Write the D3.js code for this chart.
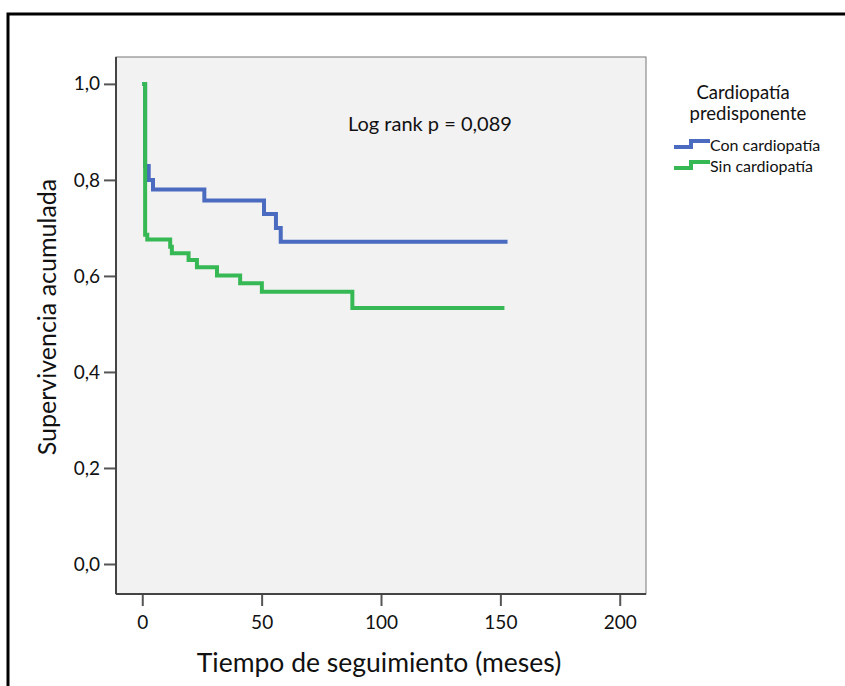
<!DOCTYPE html>
<html>
<head>
<meta charset="utf-8">
<script src="https://cdnjs.cloudflare.com/ajax/libs/d3/7.8.5/d3.min.js"></script>
<style>
  body { margin: 0; background: #fff; }
  text { font-family: Lato, "Open Sans", sans-serif; fill: #111; }
</style>
</head>
<body>
<div id="chart"></div>
<script>
var width = 845, height = 686;

// survival curves
var conTime = [0, 1.2, 2.7, 4.5, 26, 51, 56, 58, 153];
var conSurv = [1, 0.829, 0.80, 0.78, 0.757, 0.729, 0.70, 0.671, 0.671];

var sinTime = [0, 1.2, 2.1, 11.7, 12.4, 19.4, 22.9, 31.3, 41, 50.1, 88, 151.7];
var sinSurv = [1, 0.686, 0.676, 0.661, 0.647, 0.633, 0.618, 0.601, 0.585, 0.567, 0.533, 0.533];

var xTicks = [0, 50, 100, 150, 200];
var yTicks = [0, 0.2, 0.4, 0.6, 0.8, 1.0];
var groups = ["Con cardiopatía", "Sin cardiopatía"];
var colors = ["#4a6bbf", "#36b954"];

var svg = d3.select("#chart")
  .append("svg")
  .attr("width", width)
  .attr("height", height);

// outer frame
svg.append("path")
  .attr("d", "M8," + height + " V14 H" + width)
  .attr("fill", "none")
  .attr("stroke", "#000")
  .attr("stroke-width", 3);

var plot = {left: 116, top: 57, right: 646, bottom: 594};

var x = d3.scaleLinear().domain([-11, 211]).range([plot.left, plot.right]);
var y = d3.scaleLinear().domain([-0.0625, 1.056]).range([plot.bottom, plot.top]);

svg.append("rect")
  .attr("x", plot.left)
  .attr("y", plot.top)
  .attr("width", plot.right - plot.left)
  .attr("height", plot.bottom - plot.top)
  .attr("fill", "#f2f2f2")
  .attr("stroke", "#777")
  .attr("stroke-width", 1);

var fmt = function(d) { return d.toFixed(1).replace(".", ","); };

var yAxis = svg.append("g")
  .attr("transform", "translate(" + plot.left + ",0)")
  .call(d3.axisLeft(y).tickValues(yTicks).tickFormat(fmt).tickSize(12).tickPadding(4).tickSizeOuter(0));

var xAxis = svg.append("g")
  .attr("transform", "translate(0," + plot.bottom + ")")
  .call(d3.axisBottom(x).tickValues(xTicks).tickSize(12).tickPadding(10).tickSizeOuter(0));

[yAxis, xAxis].forEach(function(a) {
  a.select(".domain").remove();
  a.selectAll("line").attr("stroke", "#555").attr("stroke-width", 2);
  a.selectAll("text").style("font-size", "19px").attr("fill", "#111");
});

// axis lines drawn over the box edge
svg.append("line")
  .attr("x1", plot.left).attr("x2", plot.left)
  .attr("y1", plot.top).attr("y2", plot.bottom)
  .attr("stroke", "#444").attr("stroke-width", 2);
svg.append("line")
  .attr("x1", plot.left).attr("x2", plot.right)
  .attr("y1", plot.bottom).attr("y2", plot.bottom)
  .attr("stroke", "#444").attr("stroke-width", 2);

var line = d3.line()
  .x(function(d) { return x(d[0]); })
  .y(function(d) { return y(d[1]); })
  .curve(d3.curveStepAfter);

var series = [d3.zip(conTime, conSurv), d3.zip(sinTime, sinSurv)];

svg.selectAll(".km")
  .data(series)
  .enter()
  .append("path")
  .attr("class", "km")
  .attr("d", line)
  .attr("fill", "none")
  .attr("stroke", function(d, i) { return colors[i]; })
  .attr("stroke-width", 4);

svg.append("text")
  .attr("x", 348)
  .attr("y", 131)
  .style("font-size", "20px")
  .text("Log rank p = 0,089");

// axis titles
svg.append("text")
  .attr("x", 379)
  .attr("y", 672)
  .attr("text-anchor", "middle")
  .style("font-size", "26.5px")
  .text("Tiempo de seguimiento (meses)");

svg.append("text")
  .attr("transform", "translate(56,317) rotate(-90)")
  .attr("text-anchor", "middle")
  .style("font-size", "25px")
  .text("Supervivencia acumulada");

// legend
var legend = svg.append("g");
legend.append("text")
  .attr("x", 743).attr("y", 99)
  .attr("text-anchor", "middle")
  .style("font-size", "18.5px")
  .text("Cardiopatía");
legend.append("text")
  .attr("x", 748).attr("y", 120)
  .attr("text-anchor", "middle")
  .style("font-size", "18.5px")
  .text("predisponente");

var item = legend.selectAll(".item")
  .data(groups)
  .enter()
  .append("g")
  .attr("class", "item")
  .attr("transform", function(d, i) { return "translate(0," + (145 + i * 21) + ")"; });

item.append("path")
  .attr("d", "M674,2 H691 V-4 H710")
  .attr("fill", "none")
  .attr("stroke", function(d, i) { return colors[i]; })
  .attr("stroke-width", 4);

item.append("text")
  .attr("x", 710)
  .attr("y", 6)
  .style("font-size", "16px")
  .text(function(d) { return d; });
</script>
</body>
</html>
